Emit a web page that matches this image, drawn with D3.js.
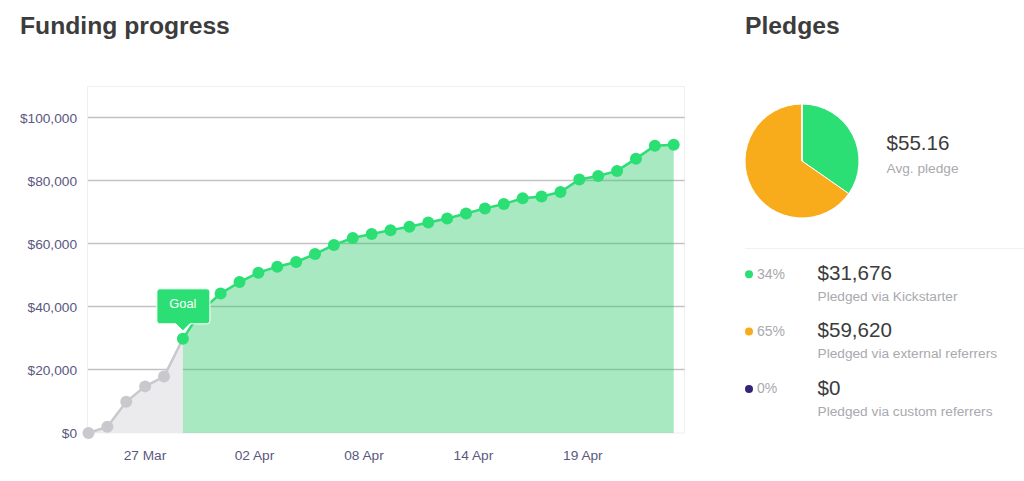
<!DOCTYPE html>
<html><head><meta charset="utf-8">
<script src="https://cdn.jsdelivr.net/npm/d3@7"></script>
<style>html,body{margin:0;padding:0;background:#fff;overflow:hidden}svg{display:block}text{font-family:"Liberation Sans",Arial,sans-serif}</style>
</head><body><svg id="c" width="1024" height="481"></svg>
<script>
const funding=[0,2000,9900,14800,17900,29900,39000,44300,47900,50900,52800,54300,56800,59700,61900,63200,64400,65500,66800,68100,69700,71300,72700,74500,75100,76500,80500,81600,83200,87100,91200,91500];
const goalIndex=5;
const tickPositions=[3,8.8,14.6,20.4,26.2];
const tickLabels=["27 Mar","02 Apr","08 Apr","14 Apr","19 Apr"];
const yTicks=[0,20000,40000,60000,80000,100000];
const sourcePct=["34%","65%","0%"];
const sourceAmounts=[31676,59620,0];
const sourceNames=["Pledged via Kickstarter","Pledged via external referrers","Pledged via custom referrers"];
const sourceColors=["#2bdf75","#f8ac1c","#35227a"];

const svg=d3.select("#c");
const x=d3.scaleLinear().domain([0,funding.length-1]).range([88.5,673.7]);
const y=d3.scaleLinear().domain([0,100000]).range([433,118]);
const money=d3.format("$,");
const pts=funding.map((v,i)=>({i,v}));
const FF='"Liberation Sans",Arial,sans-serif';

svg.append("text").attr("x",20).attr("y",33.5).attr("font-size",24.7).attr("font-weight",700).attr("fill","#3c3c3c").text("Funding progress");
svg.append("text").attr("x",745).attr("y",33.5).attr("font-size",24.7).attr("font-weight",700).attr("fill","#3c3c3c").text("Pledges");

// frame
svg.append("rect").attr("x",87.5).attr("y",86.5).attr("width",597).attr("height",346.5).attr("fill","none").attr("stroke","#efeff0");

// y axis + grid
const yAxis=svg.append("g").attr("transform","translate(88,0)").call(d3.axisLeft(y).tickValues(yTicks).tickFormat(money).tickSize(0).tickPadding(11));
yAxis.select(".domain").remove();
yAxis.selectAll("text").attr("font-size",13.7).attr("fill","#5b5880").style("font-family",FF);
svg.append("g").attr("transform","translate(0,-0.5)").selectAll("line").data(yTicks.filter(d=>d>0)).join("line")
 .attr("x1",88).attr("x2",684.5).attr("y1",d=>y(d)).attr("y2",d=>y(d)).attr("stroke","#c3c2c1").attr("stroke-width",1.3);

// x axis
const xAxis=svg.append("g").attr("transform","translate(-0.7,433)").call(d3.axisBottom(x).tickValues(tickPositions).tickFormat((d,i)=>tickLabels[i]).tickSize(0).tickPadding(17));
xAxis.select(".domain").remove();
xAxis.selectAll("text").attr("font-size",13.7).attr("fill","#5b5880").style("font-family",FF);

// areas
const area=d3.area().x(d=>x(d.i)).y0(y(0)).y1(d=>y(d.v));
const line=d3.line().x(d=>x(d.i)).y(d=>y(d.v));
const before=pts.filter(d=>d.i<=goalIndex), after=pts.filter(d=>d.i>=goalIndex);
svg.append("path").datum(before).attr("d",area).attr("fill","#ebebed");
svg.append("path").datum(after).attr("d",area).attr("fill","#28c864").attr("fill-opacity",.4);
svg.append("path").datum(before).attr("d",line).attr("fill","none").attr("stroke","#c9c8cc").attr("stroke-width",2.5);
svg.append("path").datum(after).attr("d",line).attr("fill","none").attr("stroke","#2bdf75").attr("stroke-width",2.5);
svg.append("g").selectAll("circle").data(pts).join("circle")
 .attr("cx",d=>x(d.i)).attr("cy",d=>y(d.v)).attr("r",6)
 .attr("fill",d=>d.i<goalIndex?"#c9c8cc":"#2bdf75");

// goal tooltip
const gx=x(goalIndex), gy=y(funding[goalIndex]);
const tip=svg.append("g").attr("transform",`translate(${gx},${gy})`);
tip.append("path").attr("d","M-26,-47 a3,3 0 0 1 3,-3 H24 a3,3 0 0 1 3,3 V-18 a3,3 0 0 1 -3,3 H7 L0,-8 L-7,-15 H-23 a3,3 0 0 1 -3,-3 Z")
 .attr("fill","#2bdf75").attr("stroke","#fff").attr("stroke-width",1);
tip.append("text").attr("x",0).attr("y",-30.5).attr("text-anchor","middle").attr("font-size",12.8).attr("fill","#fff").text("Goal");

// pie
const pieG=svg.append("g").attr("transform","translate(802,161)");
const arc=d3.arc().innerRadius(0).outerRadius(57);
pieG.selectAll("path").data(d3.pie().sort(null)(sourceAmounts)).join("path")
 .attr("d",arc).attr("fill",(d,i)=>sourceColors[i]).attr("stroke","#fff").attr("stroke-width",1);

svg.append("text").attr("x",886.5).attr("y",150).attr("font-size",20.6).attr("fill","#3c3c3c").text("$55.16");
svg.append("text").attr("x",886.5).attr("y",173).attr("font-size",13.7).attr("fill","#a9a9ae").text("Avg. pledge");
svg.append("line").attr("x1",745).attr("x2",1024).attr("y1",248.5).attr("y2",248.5).attr("stroke","#f1f1f2");

// legend rows
const rows=svg.append("g").selectAll("g").data(sourceAmounts).join("g").attr("transform",(d,i)=>`translate(0,${i*57.3})`);
rows.append("circle").attr("cx",749).attr("cy",274.3).attr("r",4).attr("fill",(d,i)=>sourceColors[i]);
rows.append("text").attr("x",757).attr("y",278.5).attr("font-size",14).attr("fill","#a9a9ae").text((d,i)=>sourcePct[i]);
rows.append("text").attr("x",817.5).attr("y",280).attr("font-size",20.6).attr("fill","#3c3c3c").text(d=>money(d));
rows.append("text").attr("x",817.5).attr("y",301).attr("font-size",13.7).attr("fill","#a9a9ae").text((d,i)=>sourceNames[i]);
</script></body></html>
